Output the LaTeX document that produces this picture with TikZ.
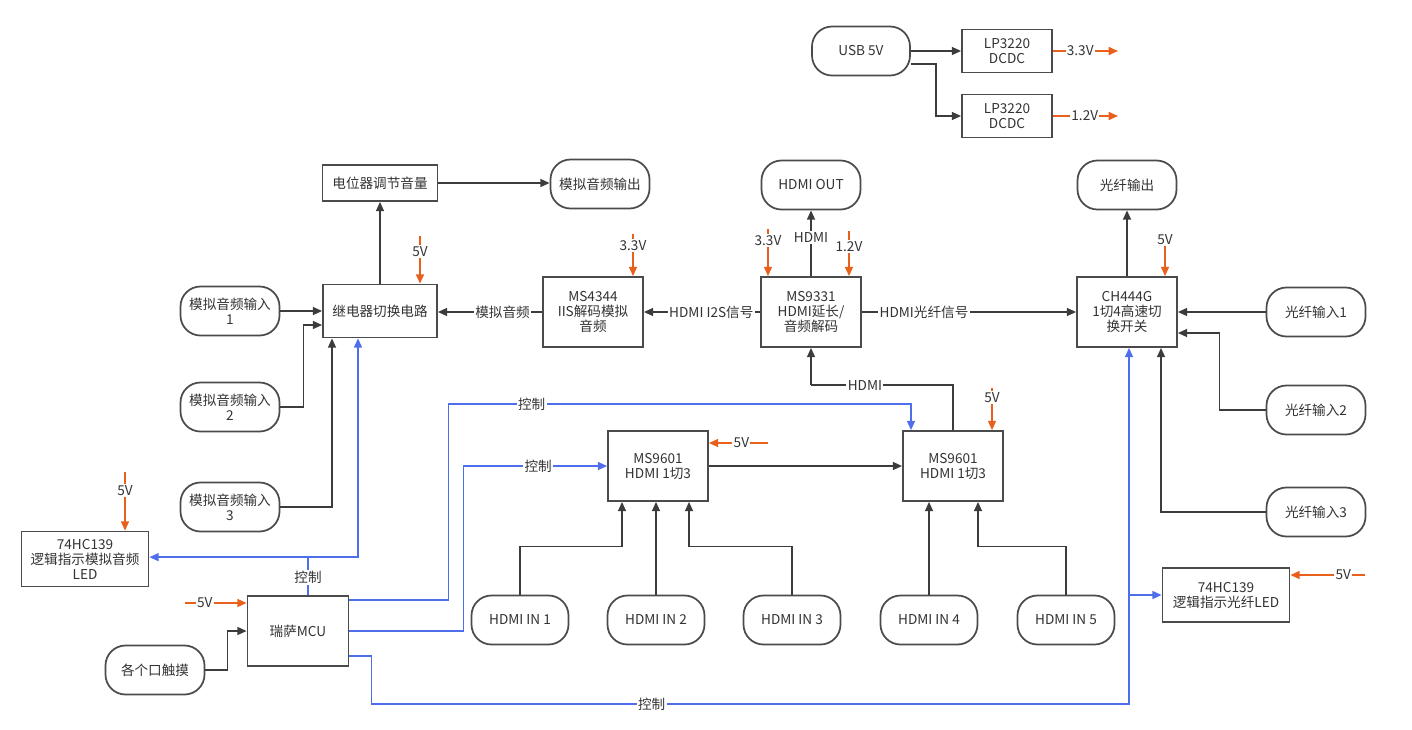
\documentclass[tikz,border=0pt]{standalone}
\usepackage{fontspec}
\setmainfont{Noto Sans CJK SC}
\usetikzlibrary{arrows.meta, calc}

\definecolor{boxgray}{RGB}{75,75,75}
\definecolor{wiregray}{RGB}{60,60,60}
\definecolor{pwrorange}{RGB}{232,96,28}
\definecolor{ctlblue}{RGB}{78,110,235}
\definecolor{txtgray}{RGB}{51,51,51}

\begin{document}
\begin{tikzpicture}[x=0.75pt, y=-0.75pt, >={Triangle[length=7pt,width=6pt]},
  font=\fontsize{10.2}{11.2}\selectfont, text=txtgray,
  chip/.style={draw=boxgray, line width=1.3pt, fill=white, align=center,
               inner sep=0pt, minimum width=75pt, minimum height=52.5pt},
  term/.style={chip, rounded corners=15pt, minimum width=74.25pt, minimum height=36.75pt},
  wire/.style={draw=wiregray, line width=1.2pt},
  pwr/.style={draw=pwrorange, line width=1.2pt},
  ctl/.style={draw=ctlblue, line width=1.2pt},
  lbl/.style={fill=white, inner sep=1pt, text=txtgray}]
  \useasboundingbox (0,0) rectangle (1412,729);

  % Power supply
  \node[term, minimum width=73.5pt] (usb) at (861,51) {USB 5V};
  \node[chip, minimum width=67.5pt, minimum height=32.25pt] (dc1) at (1007,51) {LP3220\\DCDC};
  \node[chip, minimum width=67.5pt, minimum height=32.25pt] (dc2) at (1007,116) {LP3220\\DCDC};
  \coordinate (v33) at (1118,51);
  \coordinate (v12) at (1118,116);
  \draw[wire, ->] (usb.east) -- (dc1.west);
  \draw[wire, ->] ($(usb.east)+(0,13)$) -- ++(25,0) |- (dc2.west);
  \draw[pwr, ->] (dc1.east) -- (v33) node[lbl, pos=0.42]{3.3V};
  \draw[pwr, ->] (dc2.east) -- (v12) node[lbl, pos=0.49]{1.2V};

  % Analog audio path
  \node[chip, minimum width=86.25pt, minimum height=27pt] (pot) at (380,183) {电位器调节音量};
  \node[term] (aout) at (600,184) {模拟音频输出};
  \node[chip, minimum width=85.5pt, minimum height=39.75pt] (relay) at (380,311) {继电器切换电路};
  \node[term] (ain1) at (230,311) {模拟音频输入\\1};
  \node[term] (ain2) at (230,407) {模拟音频输入\\2};
  \node[term] (ain3) at (230,507) {模拟音频输入\\3};
  \node[chip, minimum width=95.25pt, minimum height=41.25pt] (ledA) at (85,559) {74HC139\\逻辑指示模拟音频\\LED};
  \node[chip] (ms4344) at (593,312) {MS4344\\IIS解码模拟\\音频};

  \draw[wire, ->] (relay.north) -- (relay.north |- pot.south);
  \draw[wire, ->] (pot.east) -- (pot.east -| aout.west);
  \draw[wire, ->] (ain1.east) -- (relay.west);
  \draw[wire, ->] (ain2.east) -- ++(23,0) |- ($(relay.west)+(0,14)$);
  \draw[wire, ->] (ain3.east) -| ($(relay.south)+(-48,0)$);
  \draw[wire, ->] (ms4344.west) -- (ms4344.west -| relay.east) node[lbl, pos=0.38]{模拟音频};

  % HDMI extender and fibre switch
  \node[chip] (ms9331) at (811,312) {MS9331\\HDMI延长/\\音频解码};
  \node[term] (hout) at (811,185) {HDMI OUT};
  \node[chip] (ch444) at (1127,312) {CH444G\\1切4高速切\\换开关};
  \node[term] (fout) at (1127,185) {光纤输出};
  \node[term] (fin1) at (1316,312) {光纤输入1};
  \node[term] (fin2) at (1316,410) {光纤输入2};
  \node[term] (fin3) at (1316,512) {光纤输入3};
  \node[chip, minimum width=95.25pt, minimum height=40.5pt] (ledF) at (1226,595) {74HC139\\逻辑指示光纤LED};

  \draw[wire, ->] (ms9331.west) -- (ms4344.east) node[lbl, pos=0.42]{HDMI I2S信号};
  \draw[wire, ->] (ms9331.east) -- (ch444.west) node[lbl, pos=0.29]{HDMI光纤信号};
  \draw[wire, ->] (ms9331.north) -- (hout.south) node[lbl, pos=0.59]{HDMI};
  \draw[wire, ->] (ch444.north) -- (fout.south);
  \draw[wire, ->] (fin1.west) -- (ch444.east);
  \draw[wire, ->] (fin2.west) -- ++(-46,0) |- ($(ch444.east)+(0,21)$);
  \draw[wire, ->] (fin3.west) -| ($(ch444.south)+(34,0)$);

  % HDMI 1-to-3 switches
  \node[chip] (sw1) at (658,466) {MS9601\\HDMI 1切3};
  \node[chip] (sw2) at (953,466) {MS9601\\HDMI 1切3};
  \node[term, minimum width=72.75pt] (hin1) at (520,620) {HDMI IN 1};
  \node[term, minimum width=72.75pt] (hin2) at (656,620) {HDMI IN 2};
  \node[term, minimum width=72.75pt] (hin3) at (792,620) {HDMI IN 3};
  \node[term, minimum width=72.75pt] (hin4) at (929,620) {HDMI IN 4};
  \node[term, minimum width=72.75pt] (hin5) at (1066,620) {HDMI IN 5};

  \draw[wire, ->] (sw1.east) -- (sw2.west);
  \draw[wire] (sw2.north) -- ++(0,-45) coordinate (hb)
    -- (hb -| ms9331.south) node[lbl, pos=0.62]{HDMI};
  \draw[wire, ->] (hb -| ms9331.south) -- (ms9331.south);
  \draw[wire, ->] (hin1.north) -- ++(0,-48) -| ($(sw1.south)+(-36,0)$);
  \draw[wire, ->] (hin2.north) -- (hin2.north |- sw1.south);
  \draw[wire, ->] (hin3.north) -- ++(0,-48) -| ($(sw1.south)+(31,0)$);
  \draw[wire, ->] (hin4.north) -- (hin4.north |- sw2.south);
  \draw[wire, ->] (hin5.north) -- ++(0,-48) -| ($(sw2.south)+(25,0)$);

  % MCU and touch keys
  \node[chip, minimum width=75.75pt] (mcu) at (298,631) {瑞萨MCU};
  \node[term] (touch) at (155,670) {各个口触摸};
  \draw[wire, ->] (touch.east) -- ++(22,0) |- (mcu.west);

  % Control lines from the MCU
  \draw[ctl] ($(mcu.north)+(10,0)$) -- ++(0,-38) node[lbl, pos=0.47]{控制} coordinate (cm);
  \draw[ctl, ->] (cm) -| ($(relay.south)+(-22,0)$);
  \draw[ctl, ->] (cm) -- (cm -| ledA.east);
  \draw[ctl, ->] ($(mcu.east)+(0,-31)$) -- ++(99,0) -- ++(0,-196)
    -| ($(sw2.north)+(-42,0)$) node[lbl, pos=0.09]{控制};
  \draw[ctl, ->] (mcu.east) -- ++(114,0) |- (sw1.west) node[lbl, pos=0.76]{控制};
  \coordinate (ctlx) at ($(ch444.south)+(2,0)$);
  \draw[ctl, ->] ($(mcu.east)+(0,25)$) -- ++(22,0) -- ++(0,48)
    -| (ctlx) node[lbl, pos=0.185]{控制};
  \draw[ctl, ->] (ctlx |- ledF.west) -- (ledF.west);

  % Supply feeds
  \coordinate (f1) at (420,236);
  \coordinate (f2) at (633,234);
  \coordinate (f3) at (768,229);
  \coordinate (f4) at (849,231);
  \coordinate (f5) at (1165,233);
  \coordinate (f6) at (125,472);
  \coordinate (f7) at (185,603);
  \coordinate (f8) at (768,443);
  \coordinate (f9) at (992,388);
  \coordinate (f10) at (1365,575);
  \draw[pwr, ->] (f1) -- ($(relay.north)+(40,0)$) node[lbl, pos=0.33]{5V};
  \draw[pwr, ->] (f2) -- ($(ms4344.north)+(40,0)$) node[lbl, pos=0.27]{3.3V};
  \draw[pwr, ->] (f3) -- ($(ms9331.north)+(-43,0)$) node[lbl, pos=0.25]{3.3V};
  \draw[pwr, ->] (f4) -- ($(ms9331.north)+(38,0)$) node[lbl, pos=0.34]{1.2V};
  \draw[pwr, ->] (f5) -- ($(ch444.north)+(38,0)$) node[lbl, pos=0.15]{5V};
  \draw[pwr, ->] (f6) -- ($(ledA.north)+(40,0)$) node[lbl, pos=0.32]{5V};
  \draw[pwr, ->] (f7) -- ($(mcu.west)+(0,-28)$) node[lbl, pos=0.32]{5V};
  \draw[pwr, ->] (f8) -- ($(sw1.east)+(0,-23)$) node[lbl, pos=0.45]{5V};
  \draw[pwr, ->] (f9) -- ($(sw2.north)+(39,0)$) node[lbl, pos=0.23]{5V};
  \draw[pwr, ->] (f10) -- ($(ledF.east)+(0,-20)$) node[lbl, pos=0.29]{5V};
\end{tikzpicture}
\end{document}
